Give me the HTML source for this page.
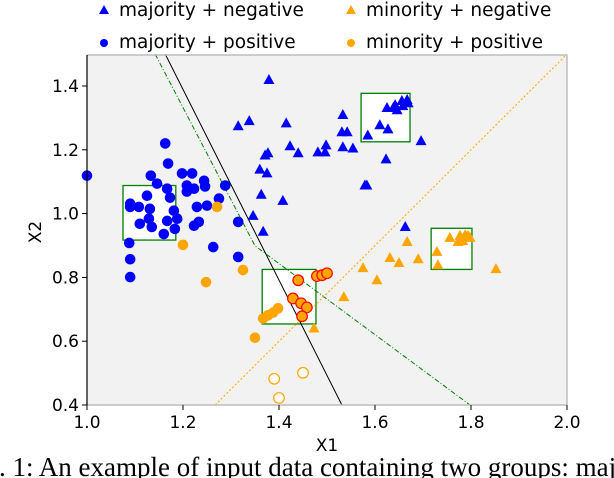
<!DOCTYPE html>
<html><head><meta charset="utf-8"><style>
body{margin:0;background:#fff;width:614px;height:478px;overflow:hidden}
svg{display:block;font-family:"DejaVu Sans","Liberation Sans",sans-serif}
</style></head><body>
<svg id="chart" width="614" height="478" viewBox="0 0 614 478">
<rect x="87" y="55" width="480" height="350" fill="#f2f2f2"/>
<g id="boxes"></g>
<g id="lines"></g>
<g id="marks"></g>
<line x1="87" y1="55" x2="567" y2="55" stroke="#bdbdbd" stroke-width="1.5"/>
<line x1="567" y1="55" x2="567" y2="405" stroke="#bdbdbd" stroke-width="1.5"/>
<line x1="87" y1="405" x2="567" y2="405" stroke="#bdbdbd" stroke-width="1.5"/>
<line x1="87" y1="55" x2="87" y2="405" stroke="#000" stroke-width="1.2"/>
<g id="axes" font-size="17" fill="#000"></g>
<text x="327" y="451" text-anchor="middle" font-size="17">X1</text>
<text x="0" y="0" transform="translate(41,232) rotate(-90)" text-anchor="middle" font-size="17">X2</text>
<g font-size="18.5">
<polygon points="104,5 109,14 99,14" fill="#0000ff"/>
<text x="119" y="16">majority + negative</text>
<circle cx="104" cy="43" r="4" fill="#0000ff"/>
<text x="119" y="48">majority + positive</text>
<polygon points="351,5 356,14 346,14" fill="#ffa500"/>
<text x="366" y="16">minority + negative</text>
<circle cx="351" cy="43" r="4" fill="#ffa500"/>
<text x="366" y="48">minority + positive</text>
</g>
<text x="-37" y="476" font-family="'Liberation Serif',serif" font-size="27">Fig. 1: An example of input data containing two groups: majority and minority</text>
</svg>
<script>
const xTicks=[1.0,1.2,1.4,1.6,1.8,2.0];
const yTicks=[0.4,0.6,0.8,1.0,1.2,1.4];
const majNegX=[1.379,1.338,1.315,1.415,1.533,1.531,1.542,1.423,1.440,1.371,1.377,1.481,1.498,1.496,1.533,1.554,1.360,1.375,1.363,1.408,1.346,1.367,1.579,1.583,1.623,1.696,1.663,1.585,1.610,1.627,1.625,1.642,1.646,1.656,1.667,1.669,1.658,1.638];
const majNegY=[1.419,1.290,1.274,1.283,1.309,1.255,1.255,1.211,1.189,1.182,1.189,1.192,1.214,1.192,1.208,1.204,1.138,1.126,1.059,1.040,0.993,0.943,1.088,1.088,1.170,1.227,0.958,1.245,1.277,1.264,1.331,1.340,1.324,1.353,1.356,1.346,1.337,1.331];
const majPosX=[1.163,1.169,1.000,1.133,1.146,1.167,1.198,1.219,1.208,1.244,1.223,1.208,1.246,1.288,1.125,1.173,1.090,1.108,1.131,1.090,1.229,1.250,1.275,1.181,1.129,1.188,1.167,1.110,1.135,1.233,1.223,1.183,1.160,1.315,1.088,1.263,1.090,1.315,1.090];
const majPosY=[1.220,1.157,1.119,1.119,1.094,1.078,1.126,1.126,1.088,1.103,1.078,1.069,1.085,1.088,1.056,1.050,1.031,1.021,1.015,1.021,1.021,1.025,1.047,1.009,0.984,0.984,0.977,0.968,0.958,0.974,0.962,0.952,0.936,0.974,0.908,0.895,0.857,0.864,0.801];
const minNegX=[1.667,1.631,1.650,1.690,1.575,1.604,1.535,1.473,1.729,1.731,1.852,1.756,1.773,1.777,1.788,1.794,1.798,1.783];
const minNegY=[0.911,0.861,0.845,0.857,0.829,0.791,0.738,0.640,0.880,0.838,0.826,0.924,0.911,0.930,0.933,0.930,0.924,0.914];
const minPosX=[1.325,1.350,1.367,1.377,1.388,1.398,1.271,1.200,1.248];
const minPosY=[0.823,0.611,0.671,0.681,0.690,0.703,1.021,0.902,0.785];
const hlX=[1.440,1.479,1.490,1.500,1.429,1.446,1.458,1.448];
const hlY=[0.791,0.804,0.807,0.813,0.734,0.719,0.706,0.678];
const hollowX=[1.390,1.450,1.400];
const hollowY=[0.482,0.501,0.422];
const boxX0=[1.075,1.571,1.365,1.717];
const boxX1=[1.185,1.673,1.477,1.802];
const boxY0=[0.917,1.225,0.654,0.825];
const boxY1=[1.088,1.377,0.825,0.954];
const blackLineX=[1.163,1.531];
const blackLineY=[1.5,0.4];
const greenLineX=[1.142,1.350,1.798];
const greenLineY=[1.5,0.899,0.4];
const orangeLineX=[1.267,2.0];
const orangeLineY=[0.4,1.5];

const NS='http://www.w3.org/2000/svg';
const sx=v=>87+(v-1.0)*480;
const sy=v=>405-(v-0.4)*319;
function mk(tag,attrs,parent){const e=document.createElementNS(NS,tag);for(const k in attrs)e.setAttribute(k,attrs[k]);parent.appendChild(e);return e;}
const axes=document.getElementById('axes');
xTicks.forEach(t=>{
 const l=mk('line',{x1:sx(t),x2:sx(t),y1:405,y2:410,stroke:'#000'},axes);
 
 
 const tx=mk('text',{x:sx(t),y:428,'text-anchor':'middle'},axes);tx.textContent=t.toFixed(1);
 
 
});
yTicks.forEach(t=>{
 const l=mk('line',{x1:82,x2:87,y1:sy(t),y2:sy(t),stroke:'#000'},axes);
 
 
 const tx=mk('text',{x:79,y:sy(t)+6,'text-anchor':'end'},axes);tx.textContent=t.toFixed(1);
 
 
});
const boxes=document.getElementById('boxes');
boxX0.forEach((v,i)=>{
 const r=mk('rect',{x:sx(v),y:sy(boxY1[i]),width:sx(boxX1[i])-sx(v),height:sy(boxY0[i])-sy(boxY1[i]),fill:'#fff',stroke:'#008000','stroke-width':1.3},boxes);
 
 
});
const lines=document.getElementById('lines');
function poly(xs,ys,st,dash,name){
 const p=mk('polyline',{points:xs.map((x,i)=>sx(x)+','+sy(ys[i])).join(' '),fill:'none',stroke:st,'stroke-width':1,'stroke-dasharray':dash},lines);
 
 
}
poly(blackLineX,blackLineY,'#000','none','black-boundary-line');
poly(greenLineX,greenLineY,'#008000','5,2,1,2','green-boundary-line');
poly(orangeLineX,orangeLineY,'#ffa500','2,2','orange-boundary-line');
const marks=document.getElementById('marks');
function tri(xs,ys,col,name){xs.forEach((x,i)=>{const cx=sx(x),cy=sy(ys[i]);
 const p=mk('polygon',{points:`${cx},${cy-6} ${cx+5.5},${cy+4} ${cx-5.5},${cy+4}`,fill:col},marks);
 
 });}
function circ(xs,ys,fill,stroke,name){xs.forEach((x,i)=>{
 const c=mk('circle',{cx:sx(x),cy:sy(ys[i]),r:5.3,fill:fill,stroke:stroke,'stroke-width':1.2},marks);
 
 });}
tri(majNegX,majNegY,'#0000ff','majority-negative-point');
circ(majPosX,majPosY,'#0000ff','none','majority-positive-point');
tri(minNegX,minNegY,'#ffa500','minority-negative-point');
circ(minPosX,minPosY,'#ffa500','none','minority-positive-point');
circ(hlX,hlY,'#ffa500','#ff0000','highlighted-minority-point');
circ(hollowX,hollowY,'#fff','#ffa500','hollow-minority-point');
</script>
</body></html>
